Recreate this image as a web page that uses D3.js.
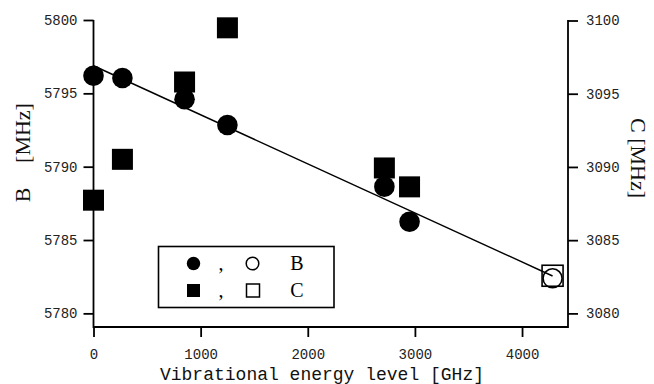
<!DOCTYPE html>
<html>
<head>
<meta charset="utf-8">
<script src="https://cdn.jsdelivr.net/npm/d3@7"></script>
<style>
  html, body { margin: 0; padding: 0; background: #fff; }
  svg { display: block; }
  .tick-lbl { font-family: "Liberation Mono", monospace; font-size: 14px; fill: #222; }
</style>
</head>
<body>
<svg id="chart" width="654" height="384"></svg>
<script>
// ---- data ----
const energies = [0, 270, 850, 1250, 2715, 2950, 4285];           // GHz
const bValues  = [5796.2, 5796.05, 5794.6, 5792.84, 5788.64, 5786.25, 5782.39]; // MHz
const cValues  = [3087.73, 3090.52, 3095.8, 3099.5, 3089.93, 3088.64, 3082.57]; // MHz
const openFlags = [false, false, false, false, false, false, true];  // open = last (extrapolated)
const xTicks = [0, 1000, 2000, 3000, 4000];
const bTicks = [5780, 5785, 5790, 5795, 5800];
const cTicks = [3080, 3085, 3090, 3095, 3100];

const svg = d3.select("#chart");
const L = 93.5, R = 568, T = 20, Bt = 327;

const x = d3.scaleLinear().domain([0, 4429]).range([L, R]);
const yB = d3.scaleLinear().domain([5779.07, 5800]).range([Bt, T]);
const yC = d3.scaleLinear().domain([3079.07, 3100]).range([Bt, T + 0.5]);

// axes
const axB = d3.axisBottom(x).tickValues(xTicks).tickSize(10).tickPadding(12).tickFormat(d3.format("d"));
const gx = svg.append("g").attr("transform", `translate(0,${Bt})`).call(axB);
const axL = d3.axisLeft(yB).tickValues(bTicks).tickSize(10).tickPadding(6).tickFormat(d3.format("d"));
const gl = svg.append("g").attr("transform", `translate(${L},0)`).call(axL);
const axR = d3.axisRight(yC).tickValues(cTicks).tickSize(10).tickPadding(8).tickFormat(d3.format("d"));
const gr = svg.append("g").attr("transform", `translate(${R},0)`).call(axR);

[gx, gl, gr].forEach(g => {
  g.select(".domain").remove();
  g.selectAll(".tick line").attr("stroke", "#000").attr("stroke-width", 1.8);
  g.selectAll(".tick text").attr("class", "tick-lbl").attr("fill", "#222");
});

// axis lines (open top)
const frame = d3.line();
svg.append("path")
  .attr("d", frame([[L, T], [L, Bt], [R, Bt], [R, T]]))
  .attr("fill", "none").attr("stroke", "#000").attr("stroke-width", 1.8);

// least-squares fit of B vs energy
const mx = d3.mean(energies), my = d3.mean(bValues);
let sxy = 0, sxx = 0;
energies.forEach((e, i) => { sxy += (e - mx) * (bValues[i] - my); sxx += (e - mx) ** 2; });
const slope = sxy / sxx, icpt = my - slope * mx;
const x0 = energies[0], x1 = energies[energies.length - 1];
svg.append("line")
  .attr("x1", x(x0)).attr("y1", yB(icpt + slope * x0))
  .attr("x2", x(x1)).attr("y2", yB(icpt + slope * x1))
  .attr("stroke", "#000").attr("stroke-width", 1.5);

// C squares
const sq = 21;
svg.append("g").selectAll("rect").data(energies).join("rect")
  .attr("x", d => x(d) - sq / 2)
  .attr("y", (d, i) => yC(cValues[i]) - sq / 2)
  .attr("width", sq).attr("height", sq)
  .attr("fill", (d, i) => openFlags[i] ? "none" : "#000")
  .attr("stroke", "#000").attr("stroke-width", (d, i) => openFlags[i] ? 1.6 : 0);

// B circles
svg.append("g").selectAll("circle").data(energies).join("circle")
  .attr("cx", d => x(d))
  .attr("cy", (d, i) => yB(bValues[i]))
  .attr("r", (d, i) => openFlags[i] ? 9.5 : 10.3)
  .attr("fill", (d, i) => openFlags[i] ? "none" : "#000")
  .attr("stroke", "#000").attr("stroke-width", (d, i) => openFlags[i] ? 1.6 : 0);

// axis titles
svg.append("text")
  .attr("x", 322).attr("y", 380)
  .attr("text-anchor", "middle")
  .attr("font-family", "'Liberation Mono', monospace").attr("font-size", 18)
  .attr("fill", "#111")
  .text("Vibrational energy level [GHz]");

const serif = "'Liberation Serif', serif";
svg.append("text")
  .attr("transform", "translate(30,195) rotate(-90)")
  .attr("text-anchor", "middle")
  .attr("font-family", serif).attr("font-size", 22).attr("fill", "#111")
  .text("B");
svg.append("text")
  .attr("transform", "translate(30,133) rotate(-90)")
  .attr("text-anchor", "middle")
  .attr("font-family", serif).attr("font-size", 22).attr("fill", "#111")
  .text("[MHz]");

svg.append("text")
  .attr("transform", "translate(631,158) rotate(90)")
  .attr("text-anchor", "middle")
  .attr("font-family", serif).attr("font-size", 22).attr("fill", "#111")
  .text("C [MHz]");

// legend
const lg = svg.append("g");
lg.append("rect").attr("x", 158.5).attr("y", 246.5).attr("width", 175.5).attr("height", 61)
  .attr("fill", "#fff").attr("stroke", "#000").attr("stroke-width", 1.6);
const rows = [
  { label: "B", y: 263.5, shape: "circle" },
  { label: "C", y: 290.5, shape: "square" }
];
rows.forEach(r => {
  if (r.shape === "circle") {
    lg.append("circle").attr("cx", 193.5).attr("cy", r.y).attr("r", 6.7).attr("fill", "#000");
    lg.append("circle").attr("cx", 252.5).attr("cy", r.y).attr("r", 6.3)
      .attr("fill", "none").attr("stroke", "#000").attr("stroke-width", 1.5);
  } else {
    lg.append("rect").attr("x", 187).attr("y", r.y - 6.5).attr("width", 13).attr("height", 13).attr("fill", "#000");
    lg.append("rect").attr("x", 246.5).attr("y", r.y - 6.5).attr("width", 13).attr("height", 13)
      .attr("fill", "none").attr("stroke", "#000").attr("stroke-width", 1.5);
  }
  lg.append("text").attr("x", 221).attr("y", r.y + 6.5).attr("text-anchor", "middle")
    .attr("font-family", serif).attr("font-size", 20).text(",");
  lg.append("text").attr("x", 297).attr("y", r.y + 6.5).attr("text-anchor", "middle")
    .attr("font-family", serif).attr("font-size", 20).text(r.label);
});
</script>
</body>
</html>
